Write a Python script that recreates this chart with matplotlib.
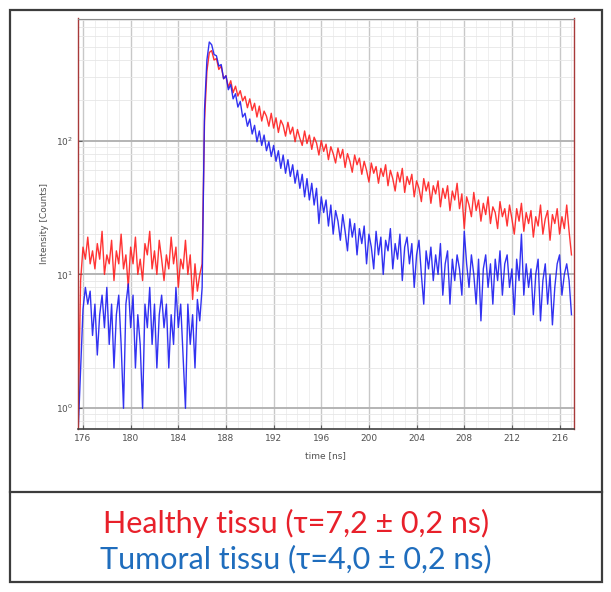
import numpy as np
import matplotlib
matplotlib.use("Agg")
import matplotlib.pyplot as plt
from matplotlib.patches import Rectangle
from matplotlib.lines import Line2D
from matplotlib.ticker import LogLocator, NullFormatter

# time channels: first channel and bin width (ns)
t_start = 175.6
t_step = 0.2

# counts per channel (rows of 10 channels = 2 ns)
healthy = [
    0.9, 9, 16, 13, 19, 12, 15, 11, 17, 13,            # 175.6
    21, 10, 14, 12, 18, 9, 15, 12, 20, 11,             # 177.6
    14, 8, 16, 12, 19, 10, 13, 9, 17, 14,              # 179.6
    21, 11, 15, 10, 18, 13, 9, 14, 11, 19,             # 181.6
    12, 16, 8, 13, 11, 18, 10, 14, 6.5, 12,            # 183.6
    7.5, 10, 12, 140, 330, 455, 470, 400, 410, 340,    # 185.6
    360, 290, 305, 250, 280, 228, 255, 215, 236, 198,  # 187.6
    214, 176, 205, 168, 190, 150, 181, 140, 166, 152,  # 189.6
    128, 160, 124, 148, 115, 142, 130, 108, 137, 112,  # 191.6
    126, 98, 121, 104, 92, 118, 95, 110, 86, 106,      # 193.6
    96, 78, 100, 83, 94, 72, 90, 80, 68, 88,           # 195.6
    74, 86, 63, 80, 70, 58, 78, 66, 74, 56,            # 197.6
    70, 60, 49, 68, 57, 64, 48, 62, 54, 66,            # 199.6
    46, 60, 52, 42, 58, 49, 62, 41, 54, 47,            # 201.6
    56, 38, 50, 44, 35, 52, 42, 49, 34, 46,            # 203.6
    40, 50, 32, 44, 37, 46, 30, 42, 36, 48,            # 205.6
    31, 40, 22, 38, 33, 27, 41, 30, 36, 25,            # 207.6
    34, 28, 38, 24, 32, 29, 22, 35, 27, 31,            # 209.6
    23, 33, 26, 20, 31, 25, 34, 21, 29, 24,            # 211.6
    30, 19, 27, 23, 33, 20, 26, 30, 18, 28,            # 213.6
    24, 31, 20, 27, 22, 33, 21, 14,                    # 215.6
]

tumoral = [
    0.7, 2, 5.5, 8, 6, 7.5, 3.5, 6, 2.5, 5,            # 175.6
    7, 4, 8, 3, 6, 2, 5, 7, 3, 1.0,                    # 177.6
    6, 8.5, 4, 7, 2, 5, 3, 1.0, 6, 4,                  # 179.6
    8, 3, 6, 2, 5, 7, 4, 6, 2, 5,                      # 181.6
    3, 8, 4, 6, 2.5, 1.0, 6, 3, 5, 2,                  # 183.6
    6.5, 4.5, 8, 170, 400, 545, 520, 440, 430, 360,    # 185.6
    370, 290, 305, 240, 262, 205, 224, 178, 196, 150,  # 187.6
    160, 128, 145, 112, 130, 98, 118, 92, 110, 84,     # 189.6
    98, 76, 92, 70, 84, 62, 78, 57, 72, 54,            # 191.6
    66, 48, 60, 44, 56, 38, 52, 36, 48, 33,            # 193.6
    44, 24, 38, 29, 36, 23, 33, 20, 30, 25,            # 195.6
    18, 28, 21, 15, 26, 19, 24, 14, 22, 17,            # 197.6
    23, 12, 20, 16, 11, 21, 14, 19, 10, 18,            # 199.6
    15, 22, 11, 17, 13, 20, 9, 16, 19, 12,             # 201.6
    17, 8, 14, 18, 10, 6, 15, 11, 16, 9,               # 203.6
    14, 10, 17, 7, 12, 15, 6, 13, 9, 14,               # 205.6
    11, 7, 21, 12, 8, 14, 10, 6, 13, 4.5,              # 207.6
    11, 14, 8, 12, 6, 13, 9, 15, 7, 12,                # 209.6
    14, 8, 11, 5, 13, 9, 20, 7, 12, 8,                 # 211.6
    11, 5, 10, 13, 4.5, 9, 12, 6, 10, 4.2,             # 213.6
    8, 12, 14, 7, 10, 12, 9, 5,                        # 215.6
]

x_ticks = [176, 180, 184, 188, 192, 196, 200, 204, 208, 212, 216]
legend_lines = ["Healthy tissu (\u03c4=7,2 \u00b1 0,2 ns)",
                "Tumoral tissu (\u03c4=4,0 \u00b1 0,2 ns)"]

time = t_start + t_step * np.arange(len(healthy))

W, H = 611, 592
fig = plt.figure(figsize=(W / 100, H / 100), dpi=100)

ax = fig.add_axes([78 / W, (H - 429) / H, (573.5 - 78) / W, (429 - 18.5) / H])
ax.plot(time, healthy, color='#ff1e1e', lw=1.0, alpha=0.9)
ax.plot(time, tumoral, color='#1c1cf0', lw=1.0, alpha=0.9)

ax.set_yscale('log')
ax.set_xlim(175.58, 217.17)
ax.set_ylim(0.70, 817)
ax.set_xticks(x_ticks)
ax.set_xticks(np.arange(176, 218, 1), minor=True)
ax.yaxis.set_minor_locator(LogLocator(base=10, subs=np.arange(2, 10)))
ax.yaxis.set_minor_formatter(NullFormatter())

ax.xaxis.grid(True, which='major', color='#c8c8c8', lw=1.0)
ax.xaxis.grid(True, which='minor', color='#ececec', lw=0.6)
ax.yaxis.grid(True, which='major', color='#b4b4b4', lw=1.4)
ax.yaxis.grid(True, which='minor', color='#e6e6e6', lw=0.6)
ax.set_axisbelow(True)

ax.tick_params(which='major', direction='in', length=3, width=0.8,
               labelsize=6.5, labelcolor='#505050', color='#606060')
ax.tick_params(which='minor', length=0)

for side in ['left', 'right']:
    ax.spines[side].set_color('#a83a3a')
    ax.spines[side].set_linewidth(1.0)
ax.spines['top'].set_color('#8c8c8c')
ax.spines['bottom'].set_color('#404040')
ax.spines['bottom'].set_linewidth(1.2)

ax.set_xlabel('time [ns]', fontsize=6.5, color='#505050', labelpad=6)
ax.set_ylabel('Intensity [Counts]', fontsize=6.5, color='#505050', labelpad=5)

# outer frame and divider above the caption
fig.add_artist(Rectangle((10 / W, (H - 581.7) / H), (601.7 - 10) / W, (581.7 - 10) / H,
                         transform=fig.transFigure, fill=False, ec='#3c3c3c', lw=1.6))
fig.add_artist(Line2D([10 / W, 601.7 / W], [(H - 491.7) / H] * 2,
                      transform=fig.transFigure, color='#3c3c3c', lw=1.6))

fig.text(296 / W, (H - 533) / H, legend_lines[0], color='#e8202a', fontsize=22,
         family=['Lato', 'DejaVu Sans'], ha='center', va='baseline')
fig.text(296 / W, (H - 568) / H, legend_lines[1], color='#1f6dbd', fontsize=22,
         family=['Lato', 'DejaVu Sans'], ha='center', va='baseline')

fig.savefig('out.png', dpi=100)
